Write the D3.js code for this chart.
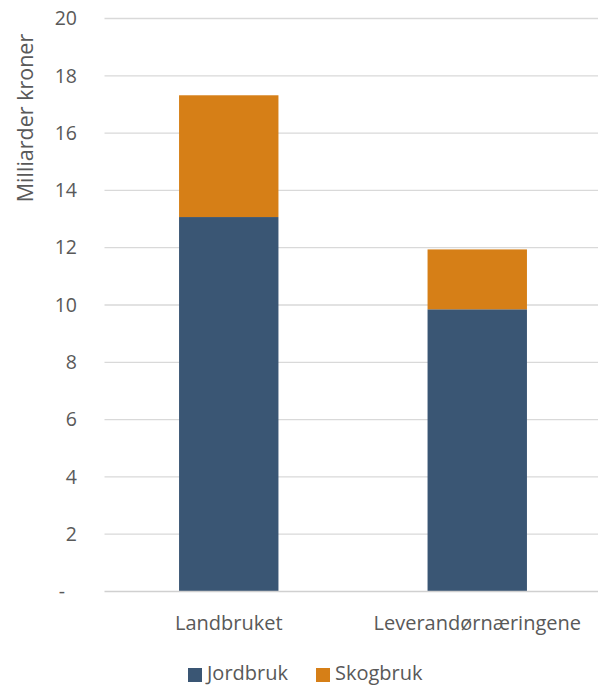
<!DOCTYPE html>
<html><head><meta charset="utf-8">
<script src="https://cdn.jsdelivr.net/npm/d3@7"></script>
<style>body{margin:0;background:#fff}svg{display:block}</style>
</head><body>
<script>
const categories = ["Landbruket", "Leverandørnæringene"];
const jordbruk = [13.07, 9.85];
const skogbruk = [4.25, 2.09];
const seriesNames = ["Jordbruk", "Skogbruk"];
const yTicks = [0, 2, 4, 6, 8, 10, 12, 14, 16, 18, 20];
const colors = ["#3a5674", "#d67f17"];

const W = 598, H = 687;
const font = "'Open Sans', sans-serif";
const svg = d3.select("body").append("svg").attr("width", W).attr("height", H);
const x0 = 104.5, x1 = 601.5, yTop = 18.5, yBot = 591.5;
const x = d3.scaleBand().domain(categories).range([x0, x1]).paddingInner(0.6).paddingOuter(0.3);
const y = d3.scaleLinear().domain([0, 20]).range([yBot, yTop]);

// grid
svg.append("g").selectAll("line").data(yTicks.filter(d => d > 0)).join("line")
  .attr("x1", x0).attr("x2", W).attr("y1", d => y(d)).attr("y2", d => y(d))
  .attr("stroke", "#d9d9d9").attr("stroke-width", 1.3);

const data = categories.map((c, i) => ({cat: c, Jordbruk: jordbruk[i], Skogbruk: skogbruk[i]}));
const stack = d3.stack().keys(seriesNames)(data);
svg.append("g").selectAll("g").data(stack).join("g").attr("fill", (d, i) => colors[i])
  .selectAll("rect").data(d => d).join("rect")
  .attr("x", d => x(d.data.cat)).attr("width", x.bandwidth())
  .attr("y", d => y(d[1])).attr("height", d => y(d[0]) - y(d[1]));

// baseline
svg.append("line").attr("x1", x0).attr("x2", W).attr("y1", y(0)).attr("y2", y(0))
  .attr("stroke", "#d0d0d0").attr("stroke-width", 1.3);

// y axis labels
const yAxis = d3.axisLeft(y).tickValues(yTicks).tickSize(0).tickPadding(0)
  .tickFormat(d => d === 0 ? "-" : d);
const ya = svg.append("g").attr("transform", "translate(77,0)").call(yAxis);
ya.select(".domain").remove();
ya.selectAll("text").attr("font-family", font).attr("font-size", 19.5).attr("fill", "#595959")
  .attr("dx", d => d === 0 ? -12 : 0);

// x axis labels
const xa = svg.append("g").attr("transform", `translate(0,${yBot})`)
  .call(d3.axisBottom(x).tickSize(0).tickPadding(0));
xa.select(".domain").remove();
xa.selectAll("text").attr("font-family", font).attr("font-size", 20).attr("fill", "#595959")
  .attr("y", 31).attr("dy", "0.35em");

// y title
svg.append("text").attr("transform", "translate(25,118) rotate(-90)")
  .attr("text-anchor", "middle").attr("dy", "0.35em").attr("font-family", font).attr("font-size", 21.5)
  .attr("fill", "#595959").text("Milliarder kroner");

// legend
const legX = [188, 316];
const lg = svg.append("g").selectAll("g").data(seriesNames).join("g")
  .attr("transform", (d, i) => `translate(${legX[i]},668)`);
lg.append("rect").attr("width", 14).attr("height", 14).attr("fill", (d, i) => colors[i]);
lg.append("text").attr("x", 19).attr("y", 12)
  .attr("font-family", font).attr("font-size", 20).attr("fill", "#595959").text(d => d);
</script>
</body></html>
